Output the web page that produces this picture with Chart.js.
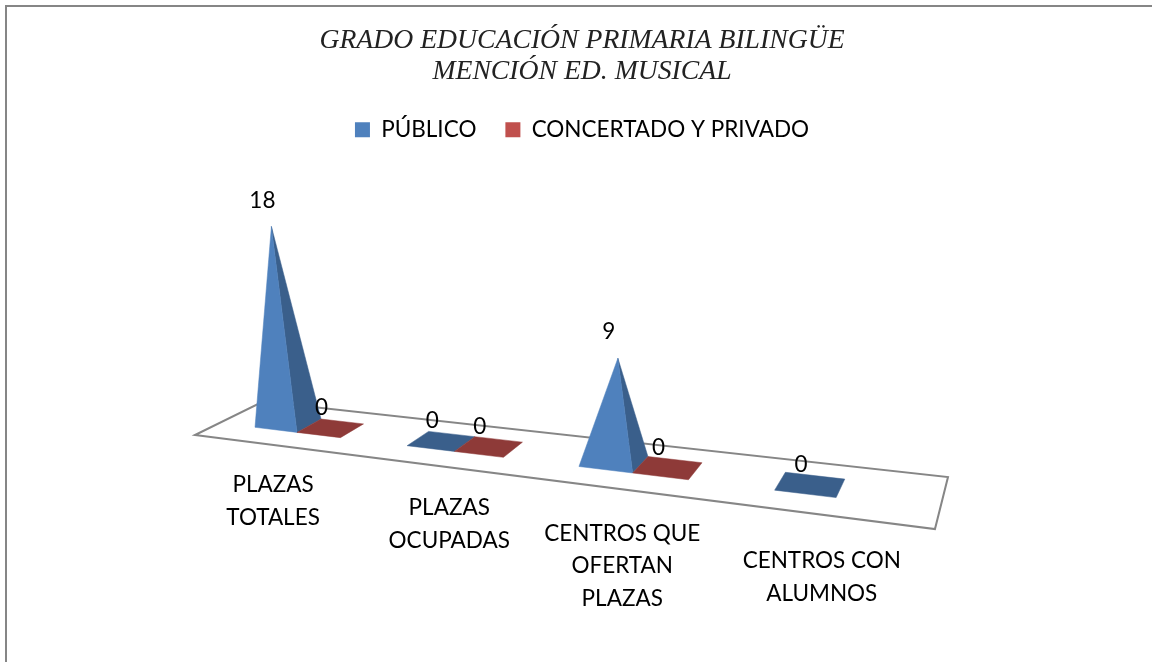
<!DOCTYPE html>
<html><head><meta charset="utf-8">
<style>html,body{margin:0;padding:0;background:#fff}#w{width:1152px;height:662px}</style>
<script src="https://cdn.jsdelivr.net/npm/chart.js@4"></script>
</head><body><div id="w"><canvas id="c" width="1152" height="662"></canvas></div>
<script>
const categories = [["PLAZAS","TOTALES"],["PLAZAS","OCUPADAS"],["CENTROS QUE","OFERTAN","PLAZAS"],["CENTROS CON","ALUMNOS"]];
const publico = [18,0,9,0];
const concertado = [0,0,0,null];
const seriesNames = ["PÚBLICO","CONCERTADO Y PRIVADO"];
const titleLines = ["GRADO EDUCACIÓN PRIMARIA BILINGÜE","MENCIÓN ED. MUSICAL"];

// perspective of the floor: homography from (u,v) unit square
const H={a:522.3,b:90.3,c:195,d:-29.1,e:0.5,f:435,g:-0.2328,h:0.0847};
function proj(u,v){const w=H.g*u+H.h*v+1;return {x:(H.a*u+H.b*v+H.c)/w,y:(H.d*u+H.e*v+H.f)/w};}
const VP={x:511,y:3020}, V0=0.34, V1=0.72, U_SHIFT=0.010;
const COL={front:["#4F81BD","#C0504D"],side:["#3A5F8B","#8E3A38"]};
const labelDx=[5,21,12,3], labelDy=[40.5,43.5,45.5,46.5], LINE=32.5;
const FONT='Lato';

function poly(ctx,pts,fill){ctx.beginPath();pts.forEach((p,i)=>i?ctx.lineTo(p.x,p.y):ctx.moveTo(p.x,p.y));ctx.closePath();ctx.fillStyle=fill;ctx.fill();ctx.strokeStyle=fill;ctx.lineWidth=.5;ctx.stroke();}

const scene={id:'scene',
 beforeDraw(ch){const c=ch.ctx;c.save();c.fillStyle='#fff';c.fillRect(0,0,ch.width,ch.height);
   c.strokeStyle='#868686';c.lineWidth=2;c.strokeRect(6,6,ch.width+20,ch.height+20);c.restore();},
 beforeDatasetsDraw(ch){
   const c=ch.ctx,A=ch.chartArea;c.save();
   const corners=[proj(0,0),proj(1,0),proj(1,1),proj(0,1)];
   c.beginPath();corners.forEach((p,i)=>i?c.lineTo(p.x,p.y):c.moveTo(p.x,p.y));c.closePath();
   c.fillStyle='#fff';c.fill();c.strokeStyle='#868686';c.lineWidth=2;c.stroke();
   const labs=[];
   const n=categories.length;
   for(let i=0;i<n;i++){
     [0,1].forEach(ds=>{
       const raw=ch.data.datasets[ds].data[i]; if(raw==null)return;
       const el=ch.getDatasetMeta(ds).data[i];
       const u0=(el.x-el.width/2-A.left)/A.width+U_SHIFT, u1=(el.x+el.width/2-A.left)/A.width+U_SHIFT;
       const fl=proj(u0,V0),fr=proj(u1,V0),br=proj(u1,V1),bl=proj(u0,V1);
       const um=(u0+u1)/2,ctr=proj(um,(V0+V1)/2);
       const hpx=(el.base-el.y)*(1+0.1*(um-0.125));
       let top=ctr;
       if(hpx>0.5){
         const t=hpx/(VP.y-ctr.y);
         const apex={x:ctr.x+(ctr.x-VP.x)*t,y:ctr.y-hpx};
         poly(c,[fr,br,apex],COL.side[ds]);
         poly(c,[fl,fr,apex],COL.front[ds]);
         top=apex;
       } else poly(c,[fl,fr,br,bl],COL.side[ds]);
       labs.push({t:String(raw),x:top.x-9,y:top.y-(hpx>0.5?26:20)});
     });
   }
   c.fillStyle='#000';c.textAlign='center';c.textBaseline='middle';c.font='22.5px '+FONT;
   labs.forEach(l=>c.fillText(l.t,l.x,l.y));
   const xs=ch.scales.x;
   categories.forEach((lines,i)=>{
     const u=(xs.getPixelForTick(i)-A.left)/A.width,p=proj(u,0);
     lines.forEach((s,j)=>c.fillText(s,p.x+labelDx[i],p.y+labelDy[i]+j*LINE));
   });
   c.restore();
   return false;
 }};

new Chart(document.getElementById('c'),{
 type:'bar',
 data:{labels:categories,datasets:[
  {label:seriesNames[0],data:publico,backgroundColor:COL.front[0],borderWidth:0},
  {label:seriesNames[1],data:concertado,backgroundColor:COL.front[1],borderWidth:0}]},
 plugins:[scene],
 options:{responsive:false,animation:false,
  layout:{padding:{left:12,top:26,right:0,bottom:292}},
  categoryPercentage:0.576,barPercentage:1,
  scales:{x:{display:false,grid:{display:false}},y:{display:false,min:0,max:20,grid:{display:false}}},
  plugins:{
   tooltip:{enabled:false},
   title:{display:true,text:titleLines,color:'#222',font:{family:'Liberation Serif',style:'italic',weight:'normal',size:27.7,lineHeight:1.09},padding:{top:0,bottom:3}},
   legend:{display:true,position:'top',labels:{boxWidth:15,boxHeight:15,padding:29,color:'#000',font:{family:FONT,size:22.5}}}
  }}
});
</script></body></html>
